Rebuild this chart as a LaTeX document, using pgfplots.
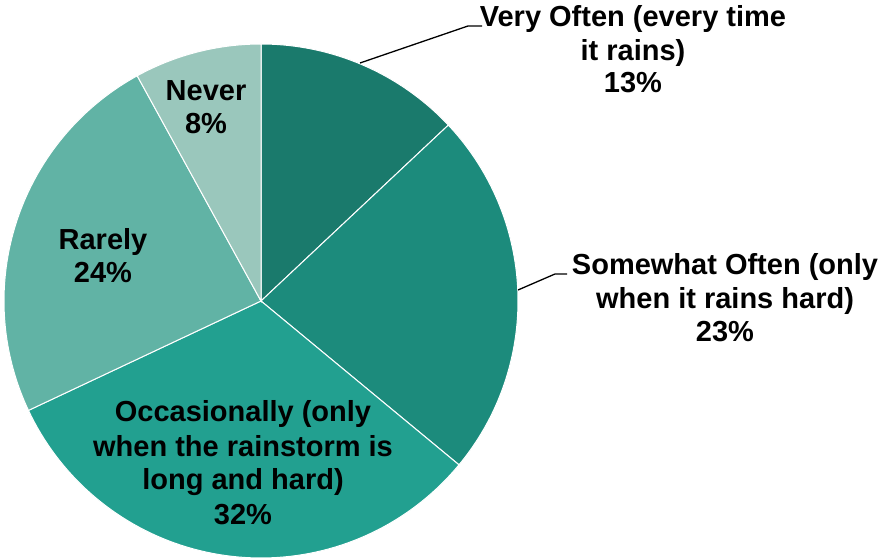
\documentclass[border=0pt]{standalone}
\usepackage{pgfplots}
\pgfplotsset{compat=1.18}
\usepackage{pgfplotstable}
\usepackage{fontspec}
\setmainfont{Liberation Sans}
\definecolor{cA}{HTML}{1A7A6C}
\definecolor{cB}{HTML}{1C8B7C}
\definecolor{cC}{HTML}{22A090}
\definecolor{cD}{HTML}{61B3A5}
\definecolor{cE}{HTML}{9AC7BC}
% percentages, clockwise from 12 o'clock
\pgfplotstableread{
label value
VeryOften 13
SomewhatOften 23
Occasionally 32
Rarely 24
Never 8
}\piedata
\pgfplotstablegetelem{0}{value}\of\piedata \let\vA\pgfplotsretval
\pgfplotstablegetelem{1}{value}\of\piedata \let\vB\pgfplotsretval
\pgfplotstablegetelem{2}{value}\of\piedata \let\vC\pgfplotsretval
\pgfplotstablegetelem{3}{value}\of\piedata \let\vD\pgfplotsretval
\pgfplotstablegetelem{4}{value}\of\piedata \let\vE\pgfplotsretval
\pgfmathsetmacro\aA{90}
\pgfmathsetmacro\aB{\aA-3.6*\vA}
\pgfmathsetmacro\aC{\aB-3.6*\vB}
\pgfmathsetmacro\aD{\aC-3.6*\vC}
\pgfmathsetmacro\aE{\aD-3.6*\vD}
\pgfmathsetmacro\aF{\aE-3.6*\vE}
\def\cx{261}\def\cy{258}\def\rr{257}
\newcommand\slice[3]{%
  \addplot[fill=#1, draw=white, line width=1pt, domain=#3:#2, samples=80, variable=\t]
    ({\cx+\rr*cos(\t)},{\cy+\rr*sin(\t)}) -- (axis cs:\cx,\cy) -- cycle;}
\newcommand\lbl[3]{\node[anchor=base, inner sep=0pt, font=\fontsize{29}{34}\selectfont\bfseries] at (axis cs:#1,#2) {#3};}
\begin{document}
\begin{tikzpicture}
\begin{axis}[x=1pt, y=1pt, xmin=0, xmax=879, ymin=0, ymax=559,
  hide axis, scale only axis, clip=false]
\path (axis cs:0,0) rectangle (axis cs:879,559);
\slice{cA}{\aA}{\aB}
\slice{cB}{\aB}{\aC}
\slice{cC}{\aC}{\aD}
\slice{cD}{\aD}{\aE}
\slice{cE}{\aE}{\aF}
\draw[black, line width=1.3pt] (axis cs:360,496) -- (axis cs:468,533) -- (axis cs:482,533);
\draw[black, line width=1.3pt] (axis cs:518,269) -- (axis cs:555,285) -- (axis cs:567,285);
\lbl{633}{532}{Very Often (every time}
\lbl{633}{498}{it rains)}
\lbl{633}{466}{13\%}
\lbl{725}{284}{Somewhat Often (only}
\lbl{725}{250}{when it rains hard)}
\lbl{725}{217}{23\%}
\lbl{243}{137}{Occasionally (only}
\lbl{243}{102}{when the rainstorm is}
\lbl{243}{69}{long and hard)}
\lbl{243}{34}{32\%}
\lbl{103}{309}{Rarely}
\lbl{103}{276}{24\%}
\lbl{206}{458}{Never}
\lbl{206}{425}{8\%}
\end{axis}
\end{tikzpicture}
\end{document}
